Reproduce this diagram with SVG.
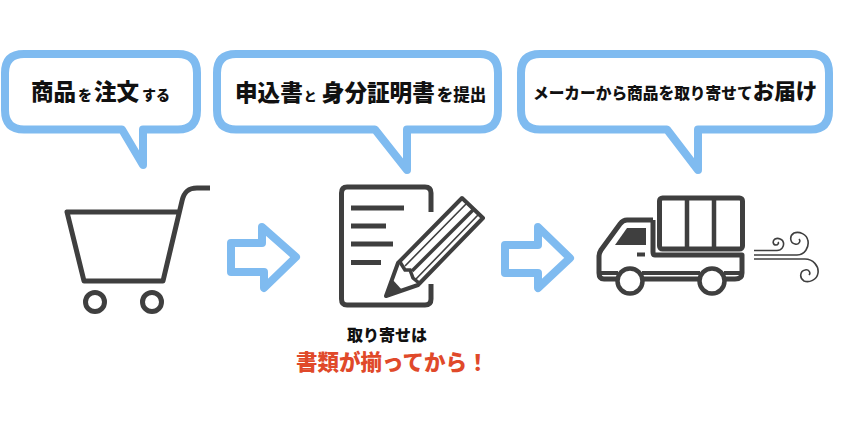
<svg xmlns="http://www.w3.org/2000/svg" width="841" height="421" viewBox="0 0 841 421">
<style>
text{font-family:"Noto Sans CJK JP","Noto Sans",sans-serif;font-weight:900;fill:#111}
.b{fill:#fff;stroke:#7fbbf0;stroke-width:8;stroke-linejoin:round}
.a{fill:#fff;stroke:#7fbbf0;stroke-width:8;stroke-linejoin:round}
.i{fill:none;stroke:#3f3f3f;stroke-width:5;stroke-linejoin:round;stroke-linecap:butt}
.t{fill:none;stroke:#3f3f3f;stroke-width:1.6}
</style>
<rect width="841" height="421" fill="#fff"/>
<g id="bubble1">
<path class="b" d="M24 54H178Q197 54 197 73V110Q197 129.500 178 129.500H143V165L122 129.500H24Q5 129.500 5 110V73Q5 54 24 54Z"/>
<text y="100" x="31" font-size="22.500">商品<tspan font-size="14" dx="2">を</tspan><tspan dx="2">注文</tspan><tspan font-size="14" dx="3">する</tspan></text>
</g>
<g id="bubble2">
<path class="b" d="M236 54H480Q498 54 498 73V110Q498 129.500 480 129.500H407V170L375 129.500H236Q217 129.500 217 110V73Q217 54 236 54Z"/>
<text y="101" x="235" font-size="22.600">申込書<tspan font-size="13" dx="1">と</tspan><tspan dx="5">身分証明書</tspan><tspan font-size="16.500" dx="2">を提出</tspan></text>
</g>
<g id="bubble3">
<path class="b" d="M540 54H811Q829 54 829 73V110Q829 129.500 811 129.500H698V170L667 129.500H540Q521 129.500 521 110V73Q521 54 540 54Z"/>
<text y="99" x="533" font-size="15.700">メーカーから商品を取り寄せて<tspan font-size="21.500">お届け</tspan></text>
</g>
<g id="cart">
<path class="i" d="M210 188H197C188 188 184 192 182 201L163 281H84L67 212H180"/>
<circle class="i" cx="95" cy="302" r="9.500"/>
<circle class="i" cx="152" cy="302" r="9.500"/>
</g>
<g id="document">
<path class="i" d="M431 212V193Q431 187 425 187H347Q341.500 187 341.500 193V299Q341.500 305 347 305H425Q431 305 431 299V284"/>
<path class="i" d="M351 208H404M351 226H386M351 244H393M351 262.500H381"/>
<path d="M386 296L398 263L462 198L483 218L418 285Z" fill="#fff" stroke="#3f3f3f" stroke-width="4" stroke-linejoin="round"/>
<path d="M386 296L392 279L403 291Z" fill="#3f3f3f"/>
<path class="t" style="stroke-width:3.500" d="M400 262L405 270H410L413 278L419 283"/>
<path class="t" style="stroke-width:3.500" d="M412 271L474 209"/>
<path class="t" d="M405 266L467 203M416 279L478 215"/>
</g>
<g id="truck">
<rect x="659.500" y="198" width="83" height="51" rx="3" class="i"/>
<path class="i" style="stroke-width:4.500" d="M687 198V249M714 198V249"/>
<path class="i" d="M653 220H627Q623 220 620 224L601 250Q599 253 599 257V273Q599 279 604 279H618M642 279H700M724 279H735Q742 279 742 273V255H655Q653 255 653 252V220"/>
<path class="i" style="stroke-width:4" d="M600 273H618M642 273H700M724 273H741"/>
<path d="M627 228H646V245H615Z" fill="#3f3f3f"/>
<rect x="637" y="252.500" width="8" height="4" fill="#3f3f3f"/>
<circle cx="630" cy="281" r="12.500" fill="#fff" stroke="#3f3f3f" stroke-width="4.500"/>
<circle cx="712" cy="281" r="12.500" fill="#fff" stroke="#3f3f3f" stroke-width="4.500"/>
</g>
<g id="wind">
<path class="t" d="M754 250.500H777C782 250.500 784 246 783.500 243C783 239 778 237.500 775 239C772 241 773 245 776 245C778 245 779 243 778 242"/>
<path class="t" d="M754 255H797C805 255 809 247 808 241C807 234 799 231 794 233C789 236 790 243 795 244C799 245 801 241 799 239"/>
<path class="t" d="M754 259H805C813 259 819 266 818 273C817 280 809 283 804 281C799 278 800 271 805 270C809 269 811 273 809 275"/>
</g>
<g id="connectors">
<path class="a" d="M231 243H262V227L296 257L264 288V272H231Z"/>
<path class="a" d="M505 245H538V227L570 258L538 288V273H505Z"/>
</g>
<g id="note">
<text x="347" y="341" font-size="16">取り寄せは</text>
<text x="296" y="370" font-size="21.500" style="fill:#e0492a">書類が揃ってから！</text>
</g>
</svg>
